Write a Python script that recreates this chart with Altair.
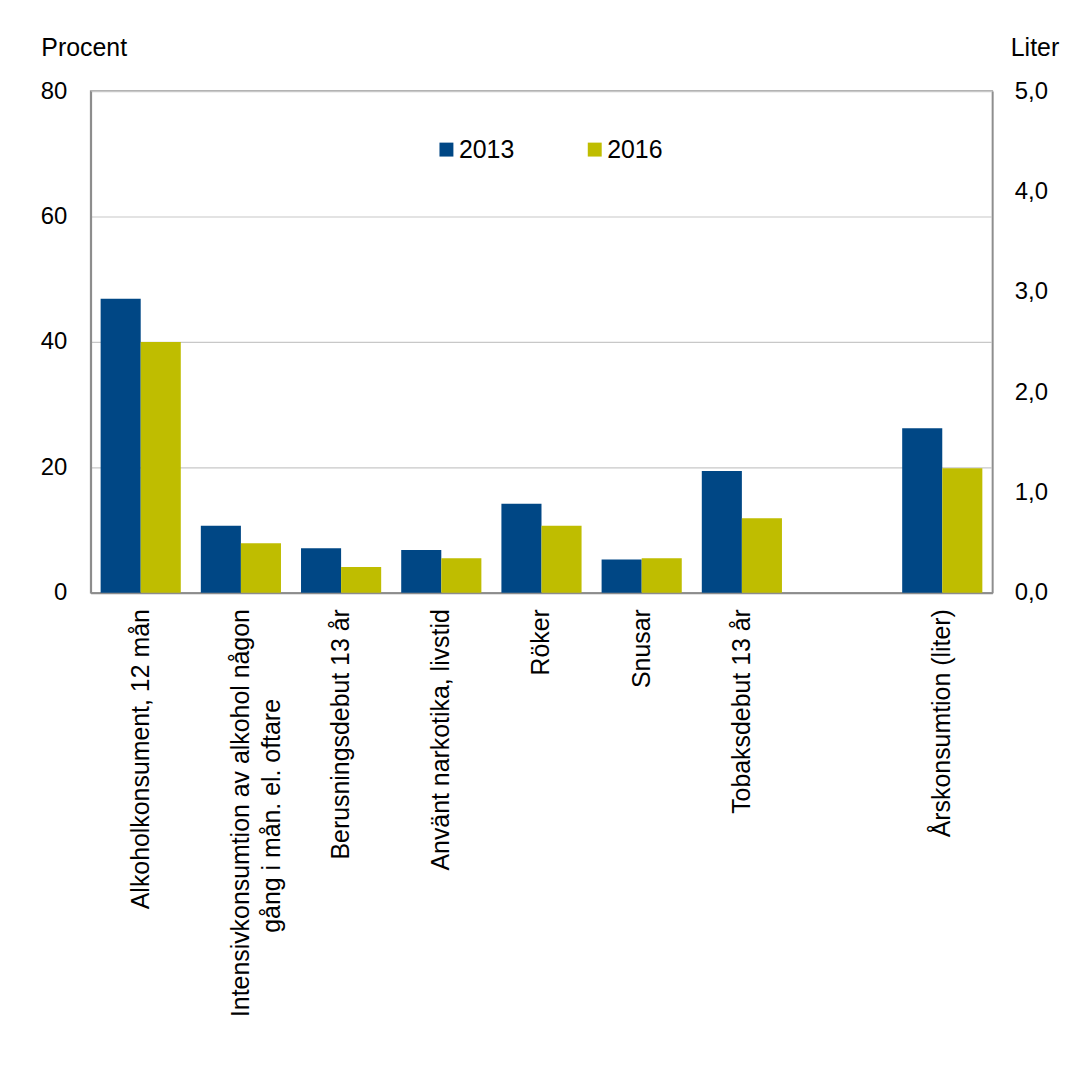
import altair as alt
import pandas as pd

# ---- data ----
categories = [
    "Alkoholkonsument, 12 mån",
    "Intensivkonsumtion av alkohol någon|gång i mån. el. oftare",
    "Berusningsdebut 13 år",
    "Använt narkotika, livstid",
    "Röker",
    "Snusar",
    "Tobaksdebut 13 år",
    " ",
    "Årskonsumtion (liter)",
]
percent_categories = categories[:7]
percent_2013 = [46.9, 10.7, 7.1, 6.8, 14.2, 5.3, 19.4]
percent_2016 = [40.0, 7.9, 4.1, 5.5, 10.7, 5.5, 11.9]

liter_categories = ["Årskonsumtion (liter)"]
liter_2013 = [1.64]
liter_2016 = [1.24]

years = ["2013", "2016"]
colors = ["#004785", "#BFBD00"]

pct_rows = []
for c, a, b in zip(percent_categories, percent_2013, percent_2016):
    pct_rows.append({"kategori": c, "år": "2013", "värde": a})
    pct_rows.append({"kategori": c, "år": "2016", "värde": b})
pct_df = pd.DataFrame(pct_rows)

lit_rows = []
for c, a, b in zip(liter_categories, liter_2013, liter_2016):
    lit_rows.append({"kategori": c, "år": "2013", "värde": a})
    lit_rows.append({"kategori": c, "år": "2016", "värde": b})
lit_df = pd.DataFrame(lit_rows)

FONT = "Liberation Sans"
FS_TXT = 25   # titles, category labels, legend
FS_NUM = 24   # numeric tick labels

x_scale = alt.Scale(domain=categories, paddingInner=0.2, paddingOuter=0.1)
xo_scale = alt.Scale(domain=years, paddingInner=0, paddingOuter=0)
color_scale = alt.Scale(domain=years, range=colors)

# multi-line labels: second line visually centred under the first
# (non-breaking spaces closed by a zero-width space so they are not trimmed)
pad = "\u00a0" * 13 + "\u200b"
label_expr = (
    "indexof(datum.label, '|') >= 0 ? "
    "[split(datum.label, '|')[0], split(datum.label, '|')[1] + '" + pad + "'] "
    ": datum.label"
)

x_axis = alt.Axis(
    labelAngle=270,
    labelExpr=label_expr,
    labelFont=FONT,
    labelFontSize=FS_TXT,
    labelColor="#000000",
    labelPadding=16,
    labelLimit=1000,
    labelLineHeight=31,
    labelOverlap=False,
    ticks=False,
    domainColor="#8c8c8c",
    domainWidth=2,
)

legend = alt.Legend(
    title=None,
    orient="none",
    direction="horizontal",
    legendX=345,
    legendY=46,
    symbolType="square",
    symbolSize=196,
    symbolStrokeWidth=0,
    labelFont=FONT,
    labelFontSize=FS_TXT,
    labelColor="#000000",
    labelOffset=0,
    columnPadding=68,
    padding=0,
)

pct = alt.Chart(pct_df).mark_bar().encode(
    x=alt.X("kategori:N", scale=x_scale, sort=categories, title=None, axis=x_axis),
    xOffset=alt.XOffset("år:N", scale=xo_scale),
    y=alt.Y(
        "värde:Q",
        scale=alt.Scale(domain=[0, 80], nice=False),
        axis=alt.Axis(
            title="Procent",
            titleAngle=0,
            titleX=-50,
            titleY=-36,
            titleAlign="left",
            titleBaseline="alphabetic",
            titleFont=FONT,
            titleFontSize=FS_TXT,
            titleFontWeight="normal",
            titleColor="#000000",
            values=[0, 20, 40, 60, 80],
            labelFont=FONT,
            labelFontSize=FS_NUM,
            labelColor="#000000",
            labelPadding=24,
            ticks=False,
            grid=True,
            gridColor="#c8c8c8",
            gridWidth=1.2,
            domainColor="#8c8c8c",
            domainWidth=2,
        ),
    ),
    color=alt.Color("år:N", scale=color_scale, legend=legend),
)

lit = alt.Chart(lit_df).mark_bar().encode(
    x=alt.X("kategori:N", scale=x_scale, sort=categories, title=None, axis=x_axis),
    xOffset=alt.XOffset("år:N", scale=xo_scale),
    y=alt.Y(
        "värde:Q",
        scale=alt.Scale(domain=[0, 5], nice=False),
        axis=alt.Axis(
            orient="right",
            title="Liter",
            titleAngle=0,
            titleX=18,
            titleY=-36,
            titleAlign="left",
            titleBaseline="alphabetic",
            titleFont=FONT,
            titleFontSize=FS_TXT,
            titleFontWeight="normal",
            titleColor="#000000",
            values=[0, 1, 2, 3, 4, 5],
            labelExpr="replace(format(datum.value, '.1f'), '.', ',')",
            labelFont=FONT,
            labelFontSize=FS_NUM,
            labelColor="#000000",
            labelPadding=22,
            ticks=False,
            grid=False,
            domainColor="#8c8c8c",
            domainWidth=1.5,
        ),
    ),
    color=alt.Color("år:N", scale=color_scale, legend=legend),
)

chart = (
    alt.layer(pct, lit)
    .resolve_scale(y="independent")
    .properties(
        width=906,
        height=504,
        autosize=alt.AutoSizeParams(type="none"),
        padding={"left": 83, "top": 81, "right": 78, "bottom": 480},
        background="#ffffff",
    )
    .configure_view(stroke="#9a9a9a", strokeWidth=1.5)
)

chart.save("out.html", embed_options={"renderer": "svg", "actions": False})
